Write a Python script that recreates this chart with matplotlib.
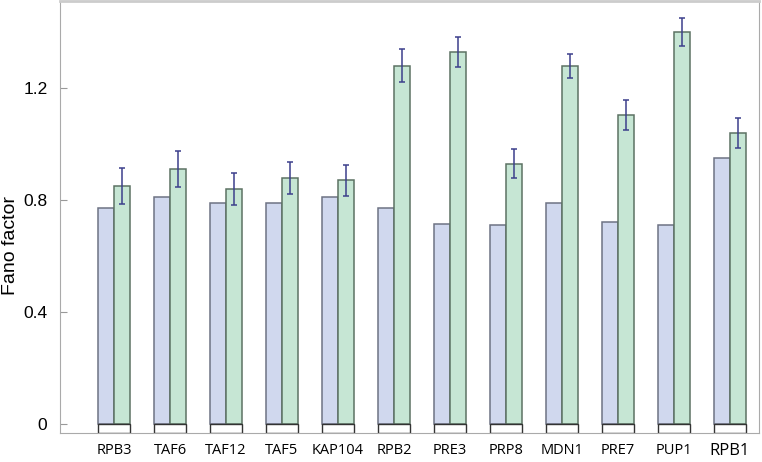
import numpy as np
import matplotlib
matplotlib.use('Agg')
import matplotlib.pyplot as plt

genes = ['RPB3', 'TAF6', 'TAF12', 'TAF5', 'KAP104', 'RPB2', 'PRE3', 'PRP8',
         'MDN1', 'PRE7', 'PUP1', 'RPB1']
fano_blue = [0.77, 0.81, 0.79, 0.79, 0.81, 0.77, 0.714, 0.71, 0.79, 0.72, 0.71, 0.95]
fano_green = [0.85, 0.91, 0.84, 0.88, 0.87, 1.28, 1.33, 0.93, 1.28, 1.105, 1.40, 1.04]
err_green = [0.064, 0.065, 0.058, 0.057, 0.057, 0.058, 0.053, 0.052, 0.043, 0.054, 0.05, 0.053]

ymin = -0.032
w = 0.2857
x = np.arange(len(genes))

fig = plt.figure(figsize=(7.62, 4.62), dpi=100)
ax = fig.add_axes([60/762, 29/462, 699/762, 432/462])

# colored bars
ax.bar(x - w/2, fano_blue, width=w, color='#d0d8ee', edgecolor='#6e7384', linewidth=1.1, zorder=2)
ax.bar(x + w/2, fano_green, width=w, color='#c6e6d4', edgecolor='#5c7263', linewidth=1.1, zorder=2)
# white stubs below zero
ax.bar(x, [-ymin] * len(x), bottom=ymin, width=2*w, color='white', edgecolor='#333333',
       linewidth=1.0, zorder=2)
ax.errorbar(x + w/2, fano_green, yerr=err_green, fmt='none', ecolor='#3c3f8c',
            elinewidth=1.1, capsize=2.5, capthick=1.1, zorder=3)

ax.set_xlim(-0.964, 11.52)
ax.set_ylim(ymin, 1.511)
ax.set_yticks([0, 0.4, 0.8, 1.2])
ax.set_yticklabels(['0', '0.4', '0.8', '1.2'], fontsize=12.5, family='Liberation Sans')
ax.tick_params(axis='y', direction='in', length=5, color='#999999', pad=9)
ax.set_xticks(x)
ax.set_xticklabels(genes, family='Open Sans', fontsize=10.5)
ax.get_xticklabels()[-1].set_fontsize(12)
ax.tick_params(axis='x', length=0, pad=7)
ax.set_ylabel('Fano factor', fontsize=14, family='Liberation Sans')
ax.yaxis.set_label_coords(-0.058, 0.433)

for s in ['left', 'bottom', 'right']:
    ax.spines[s].set_color('#aaaaaa')
ax.spines['top'].set_color('#cccccc')
ax.spines['top'].set_linewidth(2)

plt.savefig('out.png', dpi=100)
